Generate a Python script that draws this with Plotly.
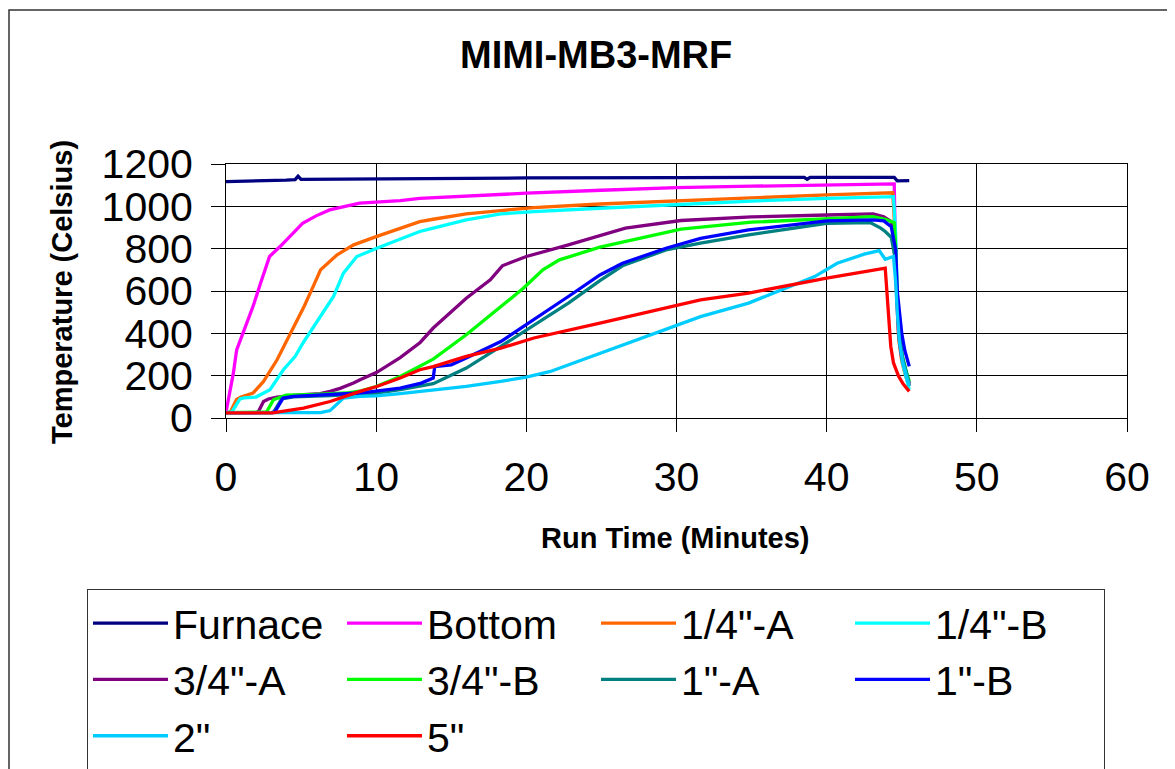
import plotly.graph_objects as go

# ---- data (minutes, degrees Celsius) ----
furnace_t = [0, 2, 4, 4.6, 4.8, 5.0, 8, 12, 20, 30, 38.5, 38.7, 38.9, 44.5, 44.7, 45.5]
furnace_v = [1117, 1119, 1124, 1126, 1142, 1127, 1129, 1132, 1134, 1136, 1137, 1128, 1137, 1137, 1120, 1121]

bottom_t = [0, 0.27, 0.49, 0.71, 1.15, 1.8, 2.3, 2.9, 3.6, 4.3, 5.1, 6.0, 6.9, 8.9, 11.6, 12.9,
            16, 20, 25, 30, 35, 40, 44.5, 44.55, 44.65, 44.8, 45.0, 45.25, 45.5]
bottom_v = [27, 134, 212, 322, 401, 527, 637, 763, 810, 860, 920, 955, 983, 1015, 1027, 1038,
            1050, 1062, 1076, 1088, 1095, 1100, 1106, 900, 600, 380, 280, 210, 165]

q_a_t = [0, 0.3, 0.7, 1.0, 1.8, 2.5, 3.4, 4.3, 5.2, 5.8, 6.3, 7.4, 8.5, 10.0, 11.7, 12.9, 13.8,
         16.0, 18.3, 20.5, 24.9, 30.3, 35, 40, 44.4, 44.55, 44.65, 44.8, 45.0, 45.25, 45.5]
q_a_v = [25, 30, 88, 99, 118, 173, 275, 401, 527, 621, 700, 771, 818, 857, 897, 928, 939,
         964, 980, 994, 1011, 1027, 1040, 1054, 1064, 880, 590, 370, 270, 200, 150]

q_b_t = [0, 0.4, 0.93, 1.2, 2.0, 2.93, 3.82, 4.6, 5.16, 6.27, 7.16, 7.82, 8.71, 10.04, 11.6, 12.9,
         13.8, 16, 18.3, 20.5, 24.9, 30.3, 35, 40, 44.45, 44.6, 44.7, 44.85, 45.05, 45.3, 45.5]
q_b_v = [25, 30, 90, 95, 99, 134, 228, 290, 358, 479, 574, 684, 763, 802, 845, 881,
         897, 936, 964, 975, 991, 1010, 1025, 1038, 1046, 860, 580, 360, 260, 190, 134]

tq_a_t = [0, 2.0, 2.16, 2.5, 2.82, 3.38, 5.16, 6.27, 6.93, 7.6, 8.49, 8.93, 10.04, 11.6, 12.93,
          13.8, 16, 17.6, 18.4, 20, 22.8, 26.6, 30.3, 35, 40, 43.1, 43.8, 44.3, 44.5, 44.65,
          44.8, 45.0, 45.25, 45.5]
tq_a_v = [25, 25, 31, 78, 90, 99, 110, 115, 126, 140, 165, 181, 216, 285, 357,
          425, 566, 653, 719, 763, 818, 897, 933, 950, 959, 964, 951, 928, 880, 600,
          390, 285, 215, 155]

tq_b_t = [0, 2.7, 3.16, 3.6, 4.0, 6.0, 8.0, 9.0, 10.0, 11.6, 12.9, 13.8, 16, 18.3, 19.8, 21.1,
          22.2, 24.9, 30.3, 35, 40, 43.1, 43.9, 44.5, 44.6, 44.7, 44.85, 45.05, 45.3, 45.5]
tq_b_v = [25, 28, 86, 99, 108, 112, 118, 128, 149, 196, 247, 278, 393, 527, 613, 700,
          747, 807, 892, 925, 939, 951, 939, 923, 800, 560, 380, 290, 220, 173]

one_a_t = [0, 3.0, 3.2, 3.7, 4.5, 7, 10, 11.6, 13.8, 16, 18.3, 20.5, 22.8, 24.9, 26.4, 29.3,
           31.6, 34.8, 40, 42.9, 43.6, 43.9, 44.3, 44.55, 44.7, 44.85, 45.05, 45.3, 45.5]
one_a_v = [25, 25, 31, 90, 100, 106, 118, 134, 162, 236, 338, 437, 543, 649, 719, 794,
           826, 865, 920, 923, 897, 881, 854, 760, 540, 375, 285, 215, 162]

one_b_t = [0, 3.1, 3.27, 3.8, 4.5, 6.27, 8.9, 11.6, 13.0, 13.8, 13.9, 15, 16, 18.3, 20.5, 22.8,
           24.9, 26.4, 29.3, 31.6, 34.8, 40, 43.1, 43.8, 44.3, 44.6, 44.7, 44.85, 45.0, 45.2, 45.4, 45.5]
one_b_v = [25, 25, 31, 94, 102, 110, 118, 141, 165, 189, 243, 251, 283, 361, 464, 574,
           676, 731, 802, 849, 889, 931, 936, 931, 904, 794, 600, 480, 400, 320, 265, 244]

two_t = [0, 6.3, 6.93, 7.38, 7.82, 8.9, 10, 11.6, 12.9, 16, 18.3, 20, 21.6, 22.8, 24.9, 27.1,
         29.3, 31.6, 34.8, 39.2, 40.7, 42.5, 43.5, 43.9, 44.45, 44.6, 44.7, 44.85, 45.05, 45.3, 45.5]
two_v = [25, 25, 35, 63, 94, 102, 105, 115, 126, 149, 173, 193, 220, 251, 307, 361,
         417, 479, 543, 668, 731, 774, 791, 750, 763, 640, 500, 360, 270, 200, 150]

five_t = [0, 3.1, 5.16, 6.93, 8.93, 10.04, 11.6, 12.9, 13.8, 16, 18.3, 20.5, 24.9, 31.6, 34.8,
          40, 43.9, 44.1, 44.27, 44.45, 44.8, 45.1, 45.5]
five_v = [24, 24, 47, 78, 126, 149, 189, 228, 243, 291, 330, 378, 448, 558, 590,
          661, 708, 511, 338, 260, 196, 160, 126]

series_names = ["Furnace", "Bottom", "1/4\"-A", "1/4\"-B", "3/4\"-A", "3/4\"-B",
                "1\"-A", "1\"-B", "2\"", "5\""]
series_t = [furnace_t, bottom_t, q_a_t, q_b_t, tq_a_t, tq_b_t, one_a_t, one_b_t, two_t, five_t]
series_v = [furnace_v, bottom_v, q_a_v, q_b_v, tq_a_v, tq_b_v, one_a_v, one_b_v, two_v, five_v]
series_colors = ["#000080", "#FF00FF", "#FF6600", "#00FFFF", "#800080", "#00FF00",
                 "#008080", "#0000FF", "#00CCFF", "#FF0000"]

x_ticks = [0, 10, 20, 30, 40, 50, 60]
y_ticks = [0, 200, 400, 600, 800, 1000, 1200]

FONT = "Liberation Sans, Arial, sans-serif"

fig = go.Figure()
for name, t, v, c in zip(series_names, series_t, series_v, series_colors):
    fig.add_trace(go.Scatter(x=t, y=v, mode="lines", name=name,
                             line=dict(color=c, width=3.3)))

# page offset of the plot div (default body margin)
OFF = 8
W, H = 1175 - OFF, 769 - OFF
# plot area in page pixels: x 226..1127, y 164..418
L = 226 - OFF
T = 164 - OFF
R = W - (1127 - OFF)
B = H - (418 - OFF)
pw, ph = W - L - R, H - T - B


def px(x_page):
    return (x_page - OFF - L) / pw


def py(y_page):
    return (H - B - (y_page - OFF)) / ph


fig.update_layout(
    width=W, height=H,
    margin=dict(l=L, r=R, t=T, b=B, autoexpand=False),
    paper_bgcolor="white", plot_bgcolor="white",
    font=dict(family=FONT, color="black"),
    showlegend=True,
    legend=dict(
        orientation="h",
        x=px(87), xanchor="left",
        y=py(589), yanchor="top",
        bordercolor="#333333", borderwidth=1,
        font=dict(size=41, family=FONT),
        entrywidth=164, entrywidthmode="pixels",
        itemwidth=75,
        traceorder="normal",
    ),
    xaxis=dict(
        range=[0, 60], tickvals=x_ticks, ticktext=[str(v) for v in x_ticks],
        showgrid=True, gridcolor="#000000", gridwidth=1,
        showline=True, linecolor="black", linewidth=1, mirror=True,
        ticks="outside", ticklen=13, tickcolor="black", tickwidth=1,
        tickfont=dict(size=41, family=FONT), zeroline=False,
        ticklabelstandoff=10,
    ),
    yaxis=dict(
        range=[0, 1200], tickvals=y_ticks, ticktext=[str(v) for v in y_ticks],
        showgrid=True, gridcolor="#000000", gridwidth=1,
        showline=True, linecolor="black", linewidth=1, mirror=True,
        ticks="outside", ticklen=14, tickcolor="black", tickwidth=1,
        tickfont=dict(size=41, family=FONT), zeroline=False,
        ticklabelstandoff=10,
    ),
)

fig.add_annotation(text="<b>MIMI-MB3-MRF</b>", xref="paper", yref="paper",
                   x=px(596), y=py(55), showarrow=False,
                   font=dict(size=38, family=FONT), xanchor="center", yanchor="middle")
fig.add_annotation(text="<b>Temperature (Celsius)</b>", xref="paper", yref="paper",
                   x=px(62), y=py(292), showarrow=False, textangle=-90,
                   font=dict(size=29, family=FONT), xanchor="center", yanchor="middle")
fig.add_annotation(text="<b>Run Time (Minutes)</b>", xref="paper", yref="paper",
                   x=px(675), y=py(538), showarrow=False,
                   font=dict(size=29, family=FONT), xanchor="center", yanchor="middle")

# chart outer border
fig.add_shape(type="rect", xref="paper", yref="paper",
              x0=px(9), x1=px(1185), y0=py(785), y1=py(10),
              line=dict(color="#333333", width=1.5), fillcolor="rgba(0,0,0,0)", layer="below")

fig.write_html("out.html")
